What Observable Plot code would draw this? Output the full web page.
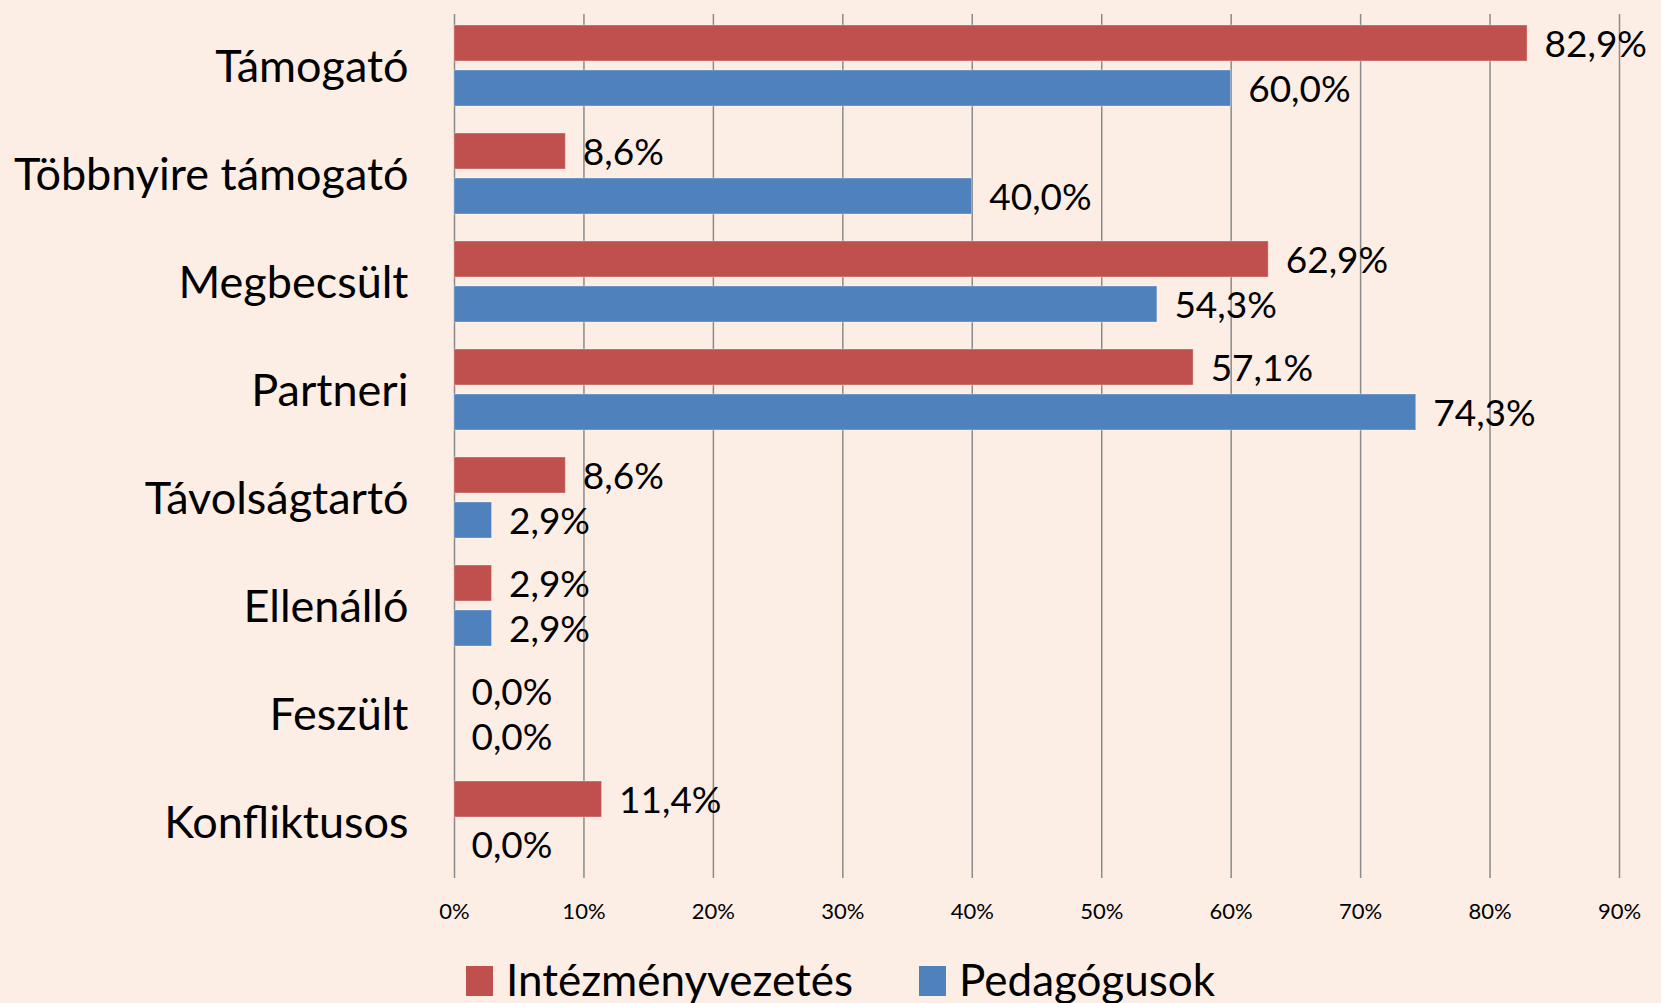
<!DOCTYPE html>
<html><head><meta charset="utf-8">
<script src="https://cdn.jsdelivr.net/npm/d3@7"></script>
<script src="https://cdn.jsdelivr.net/npm/@observablehq/plot@0.6"></script>
<style>
html,body{margin:0;padding:0;background:#FCEEE5;}
body{width:1661px;height:1003px;overflow:hidden;font-family:Lato,sans-serif;}
#legend{position:relative;height:66px;}
.sw{position:absolute;width:27px;height:30px;top:29px;}
.lt{position:absolute;font-size:44px;line-height:44px;top:20px;color:#000;white-space:nowrap;}
</style></head><body><div id="chart"></div><div id="legend"></div>
<script>
const categories = ["Támogató","Többnyire támogató","Megbecsült","Partneri","Távolságtartó","Ellenálló","Feszült","Konfliktusos"];
const series = ["Intézményvezetés","Pedagógusok"];
const intezmenyvezetes = [82.9, 8.6, 62.9, 57.1, 8.6, 2.9, 0.0, 11.4];
const pedagogusok = [60.0, 40.0, 54.3, 74.3, 2.9, 2.9, 0.0, 0.0];
const xTicks = [0,10,20,30,40,50,60,70,80,90];
const colors = ["#C0504D","#4F81BD"];

const data = categories.flatMap((c,i)=>[
  {category:c, series:series[0], value:intezmenyvezetes[i]},
  {category:c, series:series[1], value:pedagogusok[i]}
]);
const fmt = v => v.toFixed(1).replace(".", ",") + "%";

const plot = Plot.plot({
  width:1661, height:937,
  marginLeft:454, marginRight:42, marginTop:11, marginBottom:56,
  style:{background:"transparent", fontFamily:"Lato, sans-serif", color:"#000", overflow:"visible"},
  x:{domain:[0,90], label:null},
  fy:{domain:categories, padding:0, label:null},
  y:{domain:series, paddingInner:0.21, paddingOuter:0.29, align:0.39, axis:null},
  color:{domain:series, range:colors},
  marks:[
    Plot.ruleX(xTicks, {x:d=>d, stroke:"#8a8a8a", strokeWidth:1.5, strokeOpacity:1}),
    Plot.barX(data, {fy:"category", y:"series", x:"value", fill:"series", stroke:"white", strokeOpacity:0.35, strokeWidth:1}),
    Plot.text(data, {fy:"category", y:"series", x:"value", text:d=>fmt(d.value), textAnchor:"start", dx:17, dy:2, fontSize:37, fill:"#000"}),
    Plot.axisX(xTicks, {tickSize:0, tickPadding:25, fontSize:22, tickFormat:d=>d+"%", label:null, fill:"#000"}),
    Plot.axisFy({anchor:"left", tickSize:0, tickPadding:46, fontSize:45, dy:-1, label:null, fill:"#000"})
  ]
});
document.getElementById("chart").appendChild(plot);

const legend = document.getElementById("legend");
const lx = [[466,506],[919,959]];
series.forEach((s,i)=>{
  const sw = document.createElement("div");
  sw.className="sw"; sw.style.left=lx[i][0]+"px"; sw.style.background=colors[i];
  const t = document.createElement("div");
  t.className="lt"; t.style.left=lx[i][1]+"px"; t.textContent=s;
  legend.appendChild(sw); legend.appendChild(t);
});
</script></body></html>
